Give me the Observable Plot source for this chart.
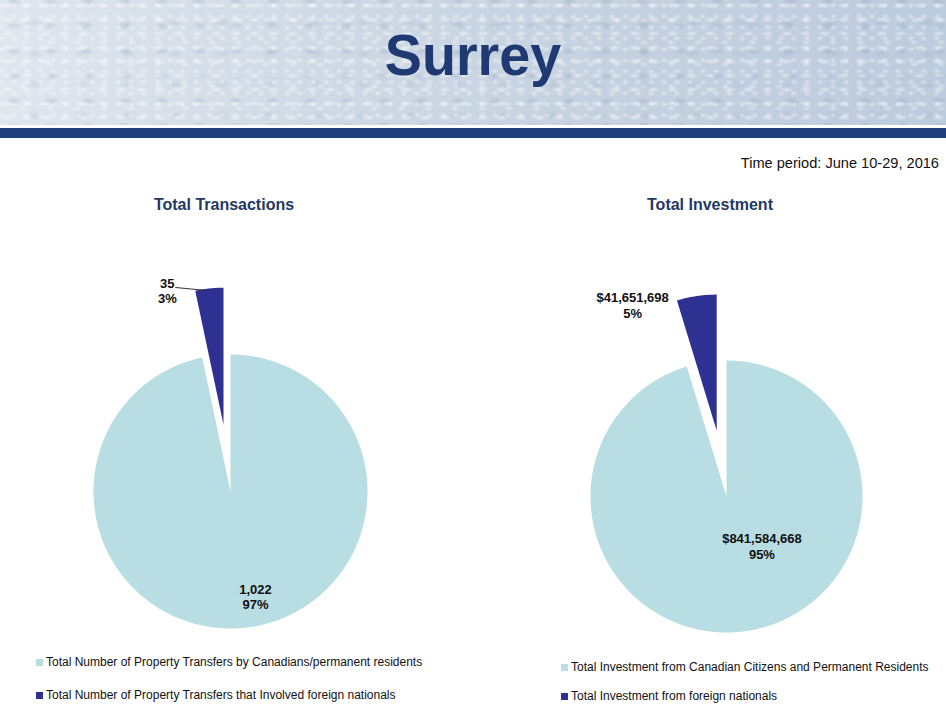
<!DOCTYPE html>
<html><head><meta charset="utf-8">
<script src="https://cdn.jsdelivr.net/npm/d3@7"></script>
<script src="https://cdn.jsdelivr.net/npm/@observablehq/plot@0.6"></script>
<style>
body{margin:0;background:#fff;font-family:"Liberation Sans",Arial,sans-serif;}
#page{position:relative;width:946px;height:714px;overflow:hidden;background:#fff;}
#banner{position:absolute;left:0;top:0;width:946px;height:125px;
background-color:#c6d3e2;
background-image:
 radial-gradient(ellipse 7px 3px at 40% 40%, rgba(255,255,255,.5), rgba(255,255,255,0) 100%),
 radial-gradient(ellipse 5px 3px at 60% 70%, rgba(255,255,255,.4), rgba(255,255,255,0) 100%),
 radial-gradient(ellipse 8px 4px at 30% 60%, rgba(110,130,165,.22), rgba(110,130,165,0) 100%),
 radial-gradient(ellipse 4px 3px at 70% 30%, rgba(255,255,255,.45), rgba(255,255,255,0) 100%),
 radial-gradient(ellipse 9px 5px at 50% 50%, rgba(130,150,180,.16), rgba(130,150,180,0) 100%),
 linear-gradient(90deg,#dfe6ee 0%,#cfd9e5 35%,#c6d2e1 60%,#bccbdd 100%);
background-size:19px 14px, 27px 22px, 37px 25px, 13px 11px, 47px 31px, 100% 100%;
background-position:0 0, 7px 5px, 3px 11px, 5px 2px, 11px 7px, 0 0;}
#band{position:absolute;left:0;top:128px;width:946px;height:10px;background:#213f7b;}
#title{position:absolute;left:0;width:946px;top:21px;text-align:center;font-weight:bold;font-size:58px;color:#1f3a72;transform:scaleX(0.96);}
#period{position:absolute;right:7px;top:155px;font-size:14.6px;color:#111;}
.ctitle{position:absolute;top:196px;font-weight:bold;font-size:16px;color:#1f3864;transform:translateX(-50%);white-space:nowrap;}
.plot{position:absolute;top:220px;}
.leg{position:absolute;font-size:12px;color:#111;white-space:nowrap;}
.leg span.sw{display:inline-block;width:7px;height:7px;margin-right:3px;vertical-align:0px;}
</style></head>
<body><div id="page">
<div id="banner"></div>
<div id="band"></div>
<div id="title"></div>
<div id="period"></div>
</div>
<script>
// ---- data ----
const pageTitle = "Surrey";
const periodText = "Time period: June 10-29, 2016";
const chartTitles = ["Total Transactions", "Total Investment"];
const transactionCategories = [
  "Total Number of Property Transfers by Canadians/permanent residents",
  "Total Number of Property Transfers that Involved foreign nationals"
];
const transactionValues = [1022, 35];
const investmentCategories = [
  "Total Investment from Canadian Citizens and Permanent Residents",
  "Total Investment from foreign nationals"
];
const investmentValues = [841584668, 41651698];
const sliceColors = ["#b8dde2", "#2e3192"];

// ---- layout ----
const page = document.getElementById("page");
document.getElementById("title").textContent = pageTitle;
document.getElementById("period").textContent = periodText;
const W = 473, H = 425;

function pie(values, categories, fmt, cfg) {
  const total = d3.sum(values);
  const r = cfg.r;
  let acc = 0;
  const slices = values.map((v, i) => {
    const a0 = acc / total * 2 * Math.PI;
    acc += v;
    const a1 = acc / total * 2 * Math.PI;
    const mid = (a0 + a1) / 2;
    const ex = cfg.explode[i];
    return {i, v, a0, a1, mid, ox: ex * Math.sin(mid), oy: ex * Math.cos(mid),
      pct: Math.round(v / total * 100) + "%", label: fmt(v), cat: categories[i]};
  });
  // polygon points for each slice (apex + arc), in unit-circle coordinates
  const pts = [];
  for (const s of slices) {
    pts.push({slice: s.i, x: s.ox, y: s.oy});
    const n = Math.max(2, Math.ceil((s.a1 - s.a0) / (Math.PI / 360)));
    for (let k = 0; k <= n; k++) {
      const a = s.a0 + (s.a1 - s.a0) * k / n;
      pts.push({slice: s.i, x: s.ox + Math.sin(a), y: s.oy + Math.cos(a)});
    }
  }
  // labels
  const labels = slices.map((s, i) => {
    const L = cfg.labels[i];
    let x, y;
    if (L.k != null) { x = L.k * Math.sin(s.mid); y = L.k * Math.cos(s.mid); }
    else { x = s.ox + Math.sin(s.mid); y = s.oy + Math.cos(s.mid); }
    return {x: x + L.dx / r, y: y - L.dy / r, text: s.label + "\n" + s.pct};
  });
  const marks = [
    Plot.line(pts, {x: "x", y: "y", z: "slice", fill: d => sliceColors[d.slice], stroke: "none", curve: "linear"}),
    Plot.text(labels, {x: "x", y: "y", text: "text", fontWeight: "bold", fontSize: 13, lineHeight: 1.22, fill: "#111", fontFamily: "Liberation Sans, Arial, sans-serif"})
  ];
  if (cfg.leader) {
    const s = slices[cfg.leader.i];
    const bx = s.ox + Math.sin(s.mid), by = s.oy + Math.cos(s.mid);
    const L = cfg.leader;
    marks.push(Plot.link([{x1: bx + L.x1 / r, y1: by - L.y1 / r, x2: bx + L.x2 / r, y2: by - L.y2 / r}],
      {x1: "x1", y1: "y1", x2: "x2", y2: "y2", stroke: "#333", strokeWidth: 1}));
  }
  const plot = Plot.plot({
    width: W, height: H,
    x: {domain: [-1, 1], range: [cfg.cx - r, cfg.cx + r], axis: null},
    y: {domain: [-1, 1], range: [cfg.cy + r, cfg.cy - r], axis: null},
    style: {background: "transparent", overflow: "visible"},
    marks
  });
  plot.classList.add("plot");
  plot.style.left = cfg.left + "px";
  page.appendChild(plot);

  const t = document.createElement("div");
  t.className = "ctitle";
  t.textContent = cfg.title;
  t.style.left = cfg.titleX + "px";
  page.appendChild(t);

  slices.forEach((s, i) => {
    const d = document.createElement("div");
    d.className = "leg";
    d.style.left = cfg.legX + "px";
    d.style.top = cfg.legY[i] + "px";
    const sw = document.createElement("span");
    sw.className = "sw";
    sw.style.background = sliceColors[i];
    d.appendChild(sw);
    d.appendChild(document.createTextNode(s.cat));
    page.appendChild(d);
  });
}

const fmtInt = d3.format(",");
const fmtMoney = v => "$" + d3.format(",")(v);

pie(transactionValues, transactionCategories, fmtInt, {
  left: 0, cx: 230, cy: 271, r: 137, explode: [0, 0.49],
  labels: [{k: 0.77, dx: 14, dy: 0}, {dx: -42, dy: 2}],
  leader: {i: 1, x1: -34, y1: -1, x2: -3, y2: 2},
  title: chartTitles[0], titleX: 224, legX: 36, legY: [655, 688]
});
pie(investmentValues, investmentCategories, fmtMoney, {
  left: 473, cx: 253, cy: 276, r: 136, explode: [0, 0.49],
  labels: [{k: 0.37, dx: 28, dy: 0}, {dx: -64, dy: 9}],
  title: chartTitles[1], titleX: 710, legX: 561, legY: [660, 689]
});
</script>
</body></html>
